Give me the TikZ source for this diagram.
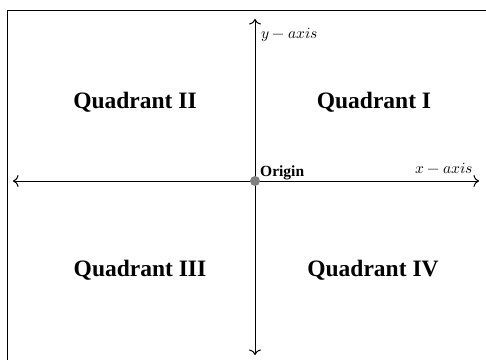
\documentclass[tikz,border=0pt]{standalone}
\usepackage{fontspec}
\setmainfont{Liberation Serif}
\usepackage{unicode-math}
\setmathfont{Latin Modern Math}
\usetikzlibrary{arrows.meta}
\tikzset{
  axis/.style={line width=1pt, {Computer Modern Rightarrow[length=5.5pt,width=12pt]}-{Computer Modern Rightarrow[length=5.5pt,width=12pt]}},
  quad/.style={font=\fontsize{23.5}{25}\selectfont\bfseries, inner sep=0pt},
  lab/.style={font=\fontsize{15.5}{17}\selectfont, inner sep=0pt},
}
\begin{document}
\begin{tikzpicture}[x=1pt,y=-1pt]
\useasboundingbox (0,0) rectangle (486,360);
% frame
\coordinate (fr) at (486,10);
\coordinate (fc) at (7,10);
\coordinate (fb) at (7,360);
\draw[line width=1pt] (fr) -- (fc) -- (fb);
% axes
\coordinate (xl) at (13,181);
\coordinate (xr) at (479,181);
\coordinate (yt) at (255,19);
\coordinate (yb) at (255,355);
\draw[axis] (xl) -- (xr);
\draw[axis] (yb) -- (yt);
\node[circle, fill=gray, inner sep=0pt, minimum size=10pt] (o) at (255,181) {};
% labels
\node[lab, anchor=base west] (ylab) at (261,38) {$y-axis$};
\node[lab, anchor=base west] (xlab) at (415,173) {$x-axis$};
\node[lab, anchor=base west, font=\fontsize{15.5}{17}\selectfont\bfseries] (olab) at (260,176) {Origin};
\node[quad] (q1) at (374,102) {Quadrant I};
\node[quad] (q2) at (135,102) {Quadrant II};
\node[quad] (q3) at (140,270) {Quadrant III};
\node[quad] (q4) at (373,270) {Quadrant IV};
\end{tikzpicture}
\end{document}
